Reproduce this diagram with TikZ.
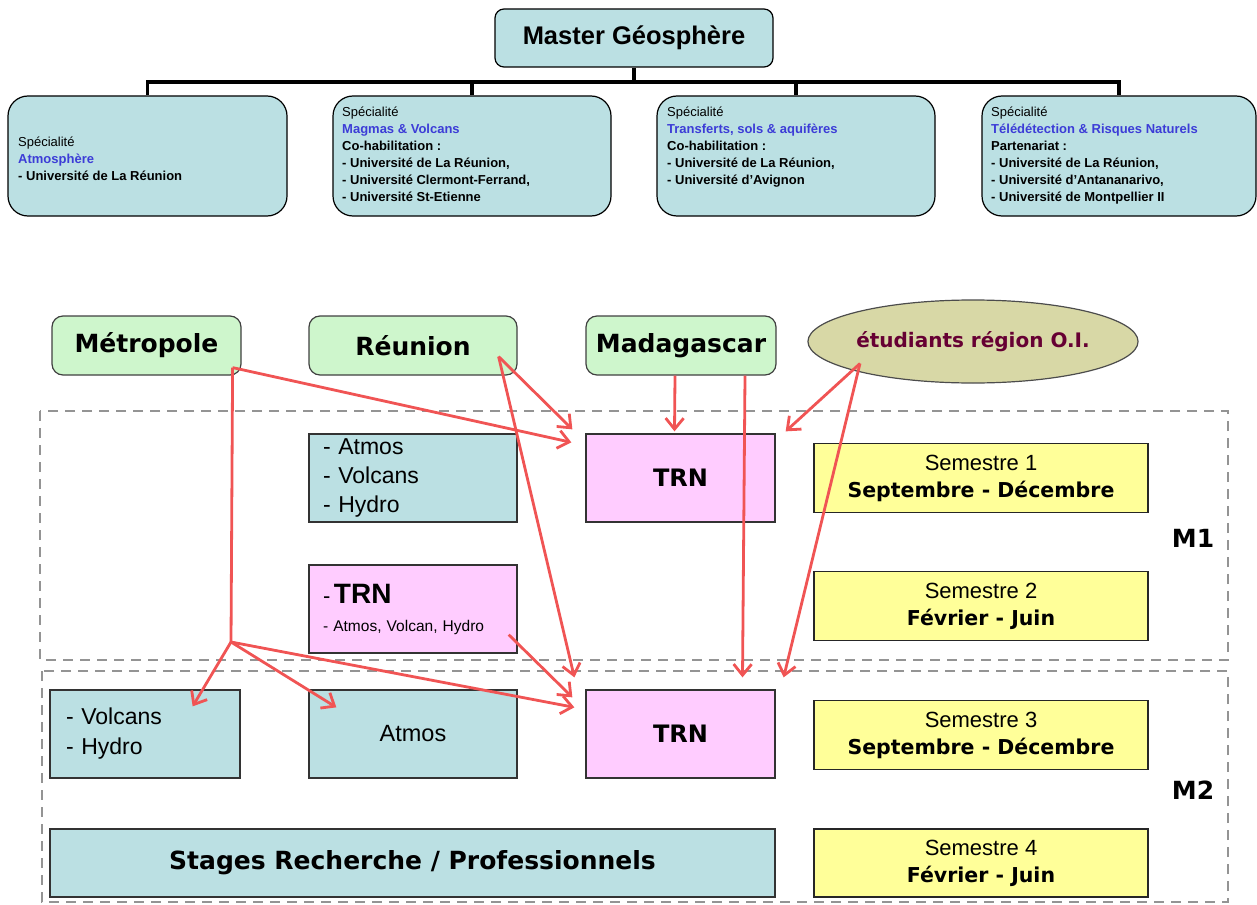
\documentclass[tikz,border=0pt]{standalone}
\usepackage{fontspec}
\setmainfont{Liberation Sans}
\newfontfamily\heavy{DejaVu Sans}
\usepackage{xcolor}
\usetikzlibrary{shapes,arrows.meta}
\definecolor{specteal}{RGB}{187,224,227}
\definecolor{specblue}{RGB}{60,60,215}
\definecolor{origgreen}{RGB}{206,246,204}
\definecolor{trnpink}{RGB}{255,204,255}
\definecolor{semyellow}{RGB}{255,255,153}
\definecolor{oiolive}{RGB}{216,216,166}
\definecolor{oimaroon}{RGB}{102,0,51}
\definecolor{arrred}{RGB}{240,84,84}
\tikzset{master/.style={rectangle,rounded corners=9pt,draw,line width=1.2pt,fill=specteal,minimum width=278pt,minimum height=58pt,font=\bfseries\fontsize{25.5}{30}\selectfont},
  spec/.style={rectangle,rounded corners=20pt,draw,line width=1.2pt,fill=specteal,minimum width=#1,minimum height=120pt},
  tx/.style={inner sep=0pt,align=left,font=\fontsize{13}{17}\selectfont},
  trunk/.style={line width=3.6pt},
  orig/.style={rectangle,rounded corners=11pt,draw=black!75,line width=1.2pt,fill=origgreen,minimum height=59pt,font=\heavy\bfseries\fontsize{25}{30}\selectfont},
  ue/.style={rectangle,draw=black!80,line width=1.3pt,minimum height=88pt},
  sem/.style={rectangle,draw=black!85,line width=1.3pt,fill=semyellow,minimum width=334pt,minimum height=69pt,align=center,font=\fontsize{22}{27}\selectfont},
  frame/.style={draw=black!42,line width=1.2pt,dash pattern=on 10pt off 7pt},
  lvl/.style={font=\heavy\bfseries\fontsize{25}{30}\selectfont},
  arr/.style={->,draw=arrred,line width=2.8pt}}
\newcommand{\semdate}[1]{{\heavy\bfseries\fontsize{20.5}{27}\selectfont #1}}

\begin{document}
\begin{tikzpicture}[x=1pt,y=-1pt,>={Straight Barb[length=11pt,width=18pt]}]
        \useasboundingbox (0,0) rectangle (1257,904);

        % organigramme du master
        \node[master] (master) at (634,38) {Master Géosphère};
        \node[spec=279pt] (spA) at (147.5,156) {};
        \node[spec=278pt] (spB) at (472,156) {};
        \node[spec=278pt] (spC) at (796,156) {};
        \node[spec=274pt] (spD) at (1119,156) {};
        \coordinate (bus) at (634,82);
        \draw [trunk] (master) to [] (bus);
        \draw [trunk] (bus) -| (spA);
        \draw [trunk] (bus) -| (spB);
        \draw [trunk] (bus) -| (spC);
        \draw [trunk] (bus) -| (spD);

        \node[tx,anchor=west] (tA) at (18,159) {Spécialité\\\textcolor{specblue}{\textbf{Atmosphère}}\\\textbf{- Université de La Réunion}};
        \node[tx,anchor=north west] (tB) at (342,107) {Spécialité\\\textcolor{specblue}{\textbf{Magmas \& Volcans}}\\\textbf{Co-habilitation :}\\\textbf{- Université de La Réunion,}\\\textbf{- Université Clermont-Ferrand,}\\\textbf{- Université St-Etienne}};
        \node[tx,anchor=north west] (tC) at (667,107) {Spécialité\\\textcolor{specblue}{\textbf{Transferts, sols \& aquifères}}\\\textbf{Co-habilitation :}\\\textbf{- Université de La Réunion,}\\\textbf{- Université d’Avignon}};
        \node[tx,anchor=north west] (tD) at (991,107) {Spécialité\\\textcolor{specblue}{\textbf{Télédétection \& Risques Naturels}}\\\textbf{Partenariat :}\\\textbf{- Université de La Réunion,}\\\textbf{- Université d’Antananarivo,}\\\textbf{- Université de Montpellier II}};

        % origine des etudiants
        \node[orig,minimum width=189pt] (metro) at (146.5,345.5) {Métropole};
        \node[orig,minimum width=208pt] (reun) at (413,345.5) {Réunion};
        \node[orig,minimum width=190pt] (mada) at (681,345.5) {Madagascar};
        \node[ellipse,draw=black!70,line width=1.2pt,fill=oiolive,minimum width=260pt,minimum height=83pt,inner sep=0pt,text=oimaroon,font=\heavy\bfseries\fontsize{20}{24}\selectfont] (etud) at (973,341.5) {étudiants région O.I.};

        % M1 et M2
        \draw [frame] (40,411) rectangle (1228,660);
        \draw [frame] (42,671) rectangle (1228,902);

        \node[ue,fill=specteal,minimum width=208pt,text width=180pt,inner xsep=14pt,align=left,font=\fontsize{23}{29}\selectfont] (opt1) at (413,478) {- Atmos\\- Volcans\\- Hydro};
        \node[ue,fill=trnpink,minimum width=189pt,font=\heavy\bfseries\fontsize{24}{28}\selectfont] (trnA) at (680.5,478) {TRN};
        \node[sem] (sem1) at (981,478) {Semestre 1\\\semdate{Septembre - Décembre}};

        \node[ue,fill=trnpink,minimum width=208pt,text width=180pt,inner xsep=14pt,align=left,font=\fontsize{15.5}{28}\selectfont] (trnB) at (413,609) {{\fontsize{22}{28}\selectfont -\,}{\fontsize{28}{28}\selectfont\bfseries TRN}\\- Atmos, Volcan, Hydro};
        \node[sem] (sem2) at (981,606) {Semestre 2\\\semdate{Février - Juin}};
        \node[lvl] (m1) at (1193,538) {M1};

        \node[ue,fill=specteal,minimum width=190pt,text width=158pt,inner xsep=16pt,align=left,font=\fontsize{23}{30}\selectfont] (opt2) at (145,734) {- Volcans\\- Hydro};
        \node[ue,fill=specteal,minimum width=208pt,font=\fontsize{23.5}{28}\selectfont] (atmos) at (413,734) {Atmos};
        \node[ue,fill=trnpink,minimum width=189pt,font=\heavy\bfseries\fontsize{24}{28}\selectfont] (trnC) at (680.5,734) {TRN};
        \node[sem] (sem3) at (981,735) {Semestre 3\\\semdate{Septembre - Décembre}};
        \node[lvl] (m2) at (1193,790) {M2};

        \node[ue,fill=specteal,minimum width=725pt,minimum height=68pt,font=\heavy\bfseries\fontsize{25}{30}\selectfont] (stages) at (412.5,863) {Stages Recherche / Professionnels};
        \node[sem,minimum height=68pt] (sem4) at (981,863) {Semestre 4\\\semdate{Février - Juin}};

        % parcours
        \coordinate (mbranch) at (231,642);
        \draw [arr] ([shift={(-9,-8)}]metro.south east) to [] ([shift={(-14,9)}]trnA.north west);
        \draw [arr,-] ([shift={(-9,-8)}]metro.south east) to [] (mbranch);
        \draw [arr] (mbranch) to [] ([shift={(-48,17)}]opt2.north east);
        \draw [arr] (mbranch) to [] ([shift={(28,18)}]atmos.north west);
        \draw [arr] (mbranch) to [] ([shift={(-11,18)}]trnC.north west);

        \draw [arr] ([shift={(-19,-19)}]reun.south east) to [] ([shift={(-13,-4)}]trnA.north west);
        \draw [arr] ([shift={(-19,-19)}]reun.south east) to [] ([shift={(-11,-12)}]trnC.north west);
        \draw [arr] ([shift={(-9,-19)}]trnB.south east) to [] ([shift={(-13,8)}]trnC.north west);

        \draw [arr] ([shift={(-6,0)}]mada.south) to [] ([shift={(-6,-2)}]trnA.north);
        \draw [arr] ([shift={(64,0)}]mada.south) to [] ([shift={(62,-12)}]trnC.north);

        \draw [arr] ([shift={(-113,22)}]etud.center) to [] ([shift={(10,-2)}]trnA.north east);
        \draw [arr] ([shift={(-113,22)}]etud.center) to [] ([shift={(8,-12)}]trnC.north east);
    \end{tikzpicture}
\end{document}
